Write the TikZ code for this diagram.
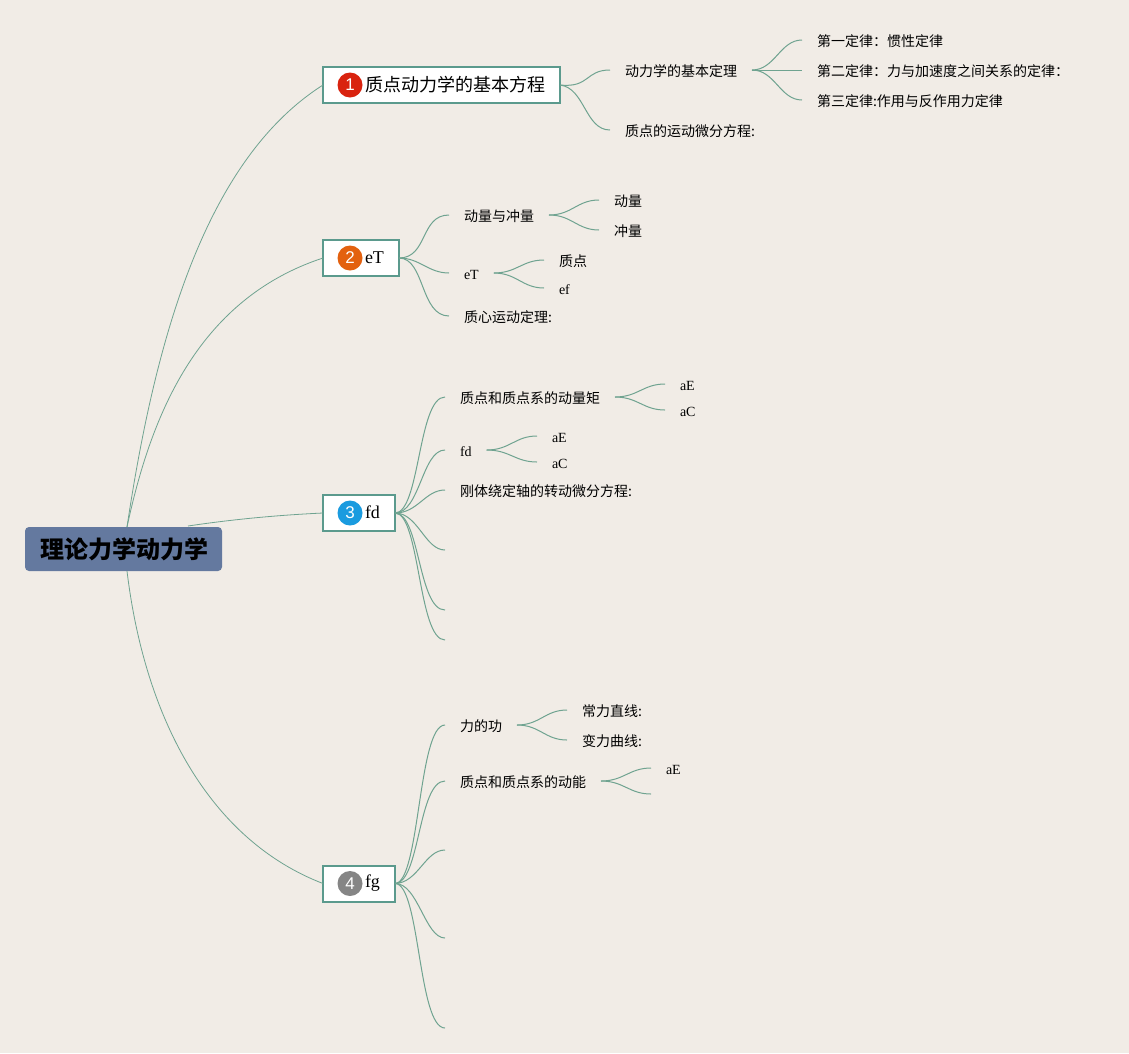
\documentclass[tikz,border=0pt]{standalone}
\usepackage{fontspec}
\setmainfont{Liberation Serif}
\setsansfont{Liberation Sans}
\newfontfamily\cjk{Noto Sans CJK SC}
\usetikzlibrary{calc}
\definecolor{paper}{HTML}{F1ECE6}
\definecolor{rootblue}{HTML}{64799F}
\definecolor{teal}{HTML}{5B9A8D}
\definecolor{twigcol}{HTML}{6FA390}
\tikzset{
    rootbox/.style={fill=rootblue, rounded corners=4pt, minimum width=197pt, minimum height=44pt, inner sep=0pt, font=\fontsize{24}{28}\selectfont\cjk\bfseries},
    topicbox/.style={draw=teal, fill=white, line width=2pt, anchor=west, outer sep=0pt, inner xsep=15pt, minimum height=36pt, font=\fontsize{18}{22}\selectfont\cjk},
    topiclatin/.style={topicbox, font=\fontsize{18}{22}\selectfont},
    badge/.style={circle, minimum size=25pt, inner sep=0pt, text=white, font=\fontsize{17}{20}\selectfont\sffamily},
    leaf/.style={anchor=west, outer sep=0pt, inner ysep=0pt, inner xsep=15pt, text height=15pt, text depth=3pt, font=\fontsize{14}{16}\selectfont\cjk},
    leaflatin/.style={leaf, font=\fontsize{14}{16}\selectfont},
    limb/.style={draw=twigcol, line width=0.8pt},
    twig/.style={draw=twigcol, line width=1pt}
}
\begin{document}
\begin{tikzpicture}[x=1pt, y=-1pt]
    \useasboundingbox (0,0) rectangle (1129,1053);
    \fill[paper] (0,0) rectangle (1129,1053);

    % centre and main topics
    \node[rootbox] (root) at (123.5,549) {\hspace*{2pt}理论力学动力学};
    \coordinate (roottop) at (127,527);
    \coordinate (rootright) at (188,526);
    \coordinate (rootlow) at (127,571);

    \node[topicbox] (topicone) at (323,85) {\hspace*{27pt}质点动力学的基本方程};
    \node[topiclatin] (topictwo) at (323,258) {\hspace*{27pt}\raisebox{1.5pt}{eT}};
    \node[topiclatin] (topicthree) at (323,513) {\hspace*{27pt}\raisebox{1.5pt}{fd}};
    \node[topiclatin] (topicfour) at (323,883.5) {\hspace*{27pt}\raisebox{1pt}{fg}};

    \node[badge, fill={rgb,255:red,217;green,35;blue,15}] (badgeone) at (350,85) {1};
    \node[badge, fill={rgb,255:red,227;green,97;blue,15}] (badgetwo) at (350,258) {2};
    \node[badge, fill={rgb,255:red,26;green,155;blue,223}] (badgethree) at (350,513) {3};
    \node[badge, fill={rgb,255:red,133;green,133;blue,133}] (badgefour) at (350,883.5) {4};

    % topic 1
    \node[leaf] (basic) at (610,70) {动力学的基本定理};
    \node[leaf] (motion) at (610,130) {质点的运动微分方程:};
    \node[leaf] (lawone) at (802,40) {第一定律：惯性定律};
    \node[leaf] (lawtwo) at (802,70) {第二定律：力与加速度之间关系的定律：};
    \node[leaf] (lawthree) at (802,100) {第三定律:作用与反作用力定律};

    % topic 2
    \node[leaf] (impulse) at (449,215) {动量与冲量};
    \node[leaflatin] (etsub) at (449,273) {eT};
    \node[leaf] (centre) at (449,316) {质心运动定理:};
    \node[leaf] (momentum) at (599,200) {动量};
    \node[leaf] (impulsesub) at (599,230) {冲量};
    \node[leaf] (particle) at (544,260) {质点};
    \node[leaflatin] (efsub) at (544,288) {ef};

    % topic 3
    \node[leaf] (angular) at (445,397) {质点和质点系的动量矩};
    \node[leaflatin] (fdsub) at (445,450) {fd};
    \node[leaf] (rigid) at (445,490) {刚体绕定轴的转动微分方程:};
    \node[leaflatin] (aeone) at (665,384) {aE};
    \node[leaflatin] (acone) at (665,410) {aC};
    \node[leaflatin] (aetwo) at (537,436) {aE};
    \node[leaflatin] (actwo) at (537,462) {aC};
    \coordinate (blanka) at (445,550);
    \coordinate (blankb) at (445,610);
    \coordinate (blankc) at (445,640);

    % topic 4
    \node[leaf] (work) at (445,725) {力的功};
    \node[leaf] (kinetic) at (445,781) {质点和质点系的动能};
    \node[leaf] (constforce) at (567,710) {常力直线:};
    \node[leaf] (varforce) at (567,740) {变力曲线:};
    \node[leaflatin] (aethree) at (651,768) {aE};
    \coordinate (blankd) at (651,794);
    \coordinate (blanke) at (445,850);
    \coordinate (blankf) at (445,938);
    \coordinate (blankg) at (445,1028);

    % limbs from the centre
    \draw[limb] (roottop) .. controls (155,340) and (205,160) .. (topicone.west);
    \draw[limb] (roottop) .. controls (150,420) and (195,300) .. (topictwo.west);
    \draw[limb] (rootright) .. controls (235,519) and (280,515) .. (topicthree.west);
    \draw[limb] (rootlow) .. controls (145,720) and (210,840) .. (topicfour.west);

    % twigs
    \draw[twig] (topicone.east) .. controls (590,88) and (585,70) .. (basic.west);
    \draw[twig] (topicone.east) .. controls (585,88) and (585,130) .. (motion.west);
    \draw[twig] (basic.east) .. controls (775,70) and (780,40) .. (lawone.west);
    \draw[twig] (basic.east) -- (lawtwo.west);
    \draw[twig] (basic.east) .. controls (775,70) and (780,100) .. (lawthree.west);

    \draw[twig] (topictwo.east) .. controls (428,258) and (420,215) .. (impulse.west);
    \draw[twig] (topictwo.east) .. controls (420,258) and (428,273) .. (etsub.west);
    \draw[twig] (topictwo.east) .. controls (425,258) and (420,316) .. (centre.west);
    \draw[twig] (impulse.east) .. controls (572,215) and (577,200) .. (momentum.west);
    \draw[twig] (impulse.east) .. controls (572,215) and (577,230) .. (impulsesub.west);
    \draw[twig] (etsub.east) .. controls (517,273) and (522,260) .. (particle.west);
    \draw[twig] (etsub.east) .. controls (517,273) and (522,288) .. (efsub.west);

    \draw[twig] (topicthree.east) .. controls (420,513) and (418,397) .. (angular.west);
    \draw[twig] (topicthree.east) .. controls (420,513) and (422,450) .. (fdsub.west);
    \draw[twig] (topicthree.east) .. controls (418,513) and (425,490) .. (rigid.west);
    \draw[twig] (topicthree.east) .. controls (418,513) and (425,550) .. (blanka);
    \draw[twig] (topicthree.east) .. controls (420,513) and (418,610) .. (blankb);
    \draw[twig] (topicthree.east) .. controls (420,513) and (418,640) .. (blankc);
    \draw[twig] (angular.east) .. controls (638,397) and (643,384) .. (aeone.west);
    \draw[twig] (angular.east) .. controls (638,397) and (643,410) .. (acone.west);
    \draw[twig] (fdsub.east) .. controls (510,450) and (515,436) .. (aetwo.west);
    \draw[twig] (fdsub.east) .. controls (510,450) and (515,462) .. (actwo.west);

    \draw[twig] (topicfour.east) .. controls (420,883) and (418,725) .. (work.west);
    \draw[twig] (topicfour.east) .. controls (420,883) and (418,781) .. (kinetic.west);
    \draw[twig] (topicfour.east) .. controls (418,883) and (425,850) .. (blanke);
    \draw[twig] (topicfour.east) .. controls (418,883) and (425,938) .. (blankf);
    \draw[twig] (topicfour.east) .. controls (420,883) and (418,1028) .. (blankg);
    \draw[twig] (work.east) .. controls (540,725) and (545,710) .. (constforce.west);
    \draw[twig] (work.east) .. controls (540,725) and (545,740) .. (varforce.west);
    \draw[twig] (kinetic.east) .. controls (624,781) and (629,768) .. (aethree.west);
    \draw[twig] (kinetic.east) .. controls (624,781) and (629,794) .. (blankd);
\end{tikzpicture}
\end{document}
